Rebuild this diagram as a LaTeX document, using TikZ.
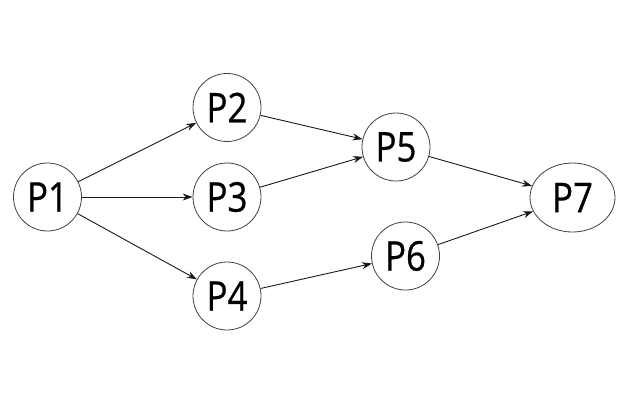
\documentclass[tikz,border=0pt]{standalone}
\usepackage{fontspec}
\setmainfont{Open Sans}[FakeStretch=0.85,FakeBold=0.6]
\usetikzlibrary{arrows.meta,shapes.geometric}
\begin{document}
\begin{tikzpicture}[x=1pt,y=-1pt,
  proc/.style={draw=black!75,line width=0.8pt,circle,minimum size=68pt,inner sep=0pt,font=\fontsize{41}{44}\selectfont},
  procwide/.style={draw=black!75,line width=0.8pt,ellipse,minimum width=85pt,minimum height=69pt,inner sep=0pt,font=\fontsize{41}{44}\selectfont},
  link/.style={draw=black!90,line width=0.9pt,-{Stealth[length=10pt,width=7pt]}}]
\useasboundingbox (0,0) rectangle (624,416);
\node[proc] (p1) at (47.5,197) {P1};
\node[proc] (p2) at (227,107.5) {P2};
\node[proc] (p3) at (227,197) {P3};
\node[proc] (p4) at (227,296) {P4};
\node[proc] (p5) at (396,147) {P5};
\node[proc] (p6) at (405.5,256) {P6};
\node[procwide] (p7) at (572.5,197.5) {P7};
\draw[link] (p1) -- (p2);
\draw[link] (p1) -- (p3);
\draw[link] (p1) -- (p4);
\draw[link] (p2) -- (p5);
\draw[link] (p3) -- (p5);
\draw[link] (p4) -- (p6);
\draw[link] (p5) -- (p7);
\draw[link] (p6) -- (p7);
\end{tikzpicture}
\end{document}
